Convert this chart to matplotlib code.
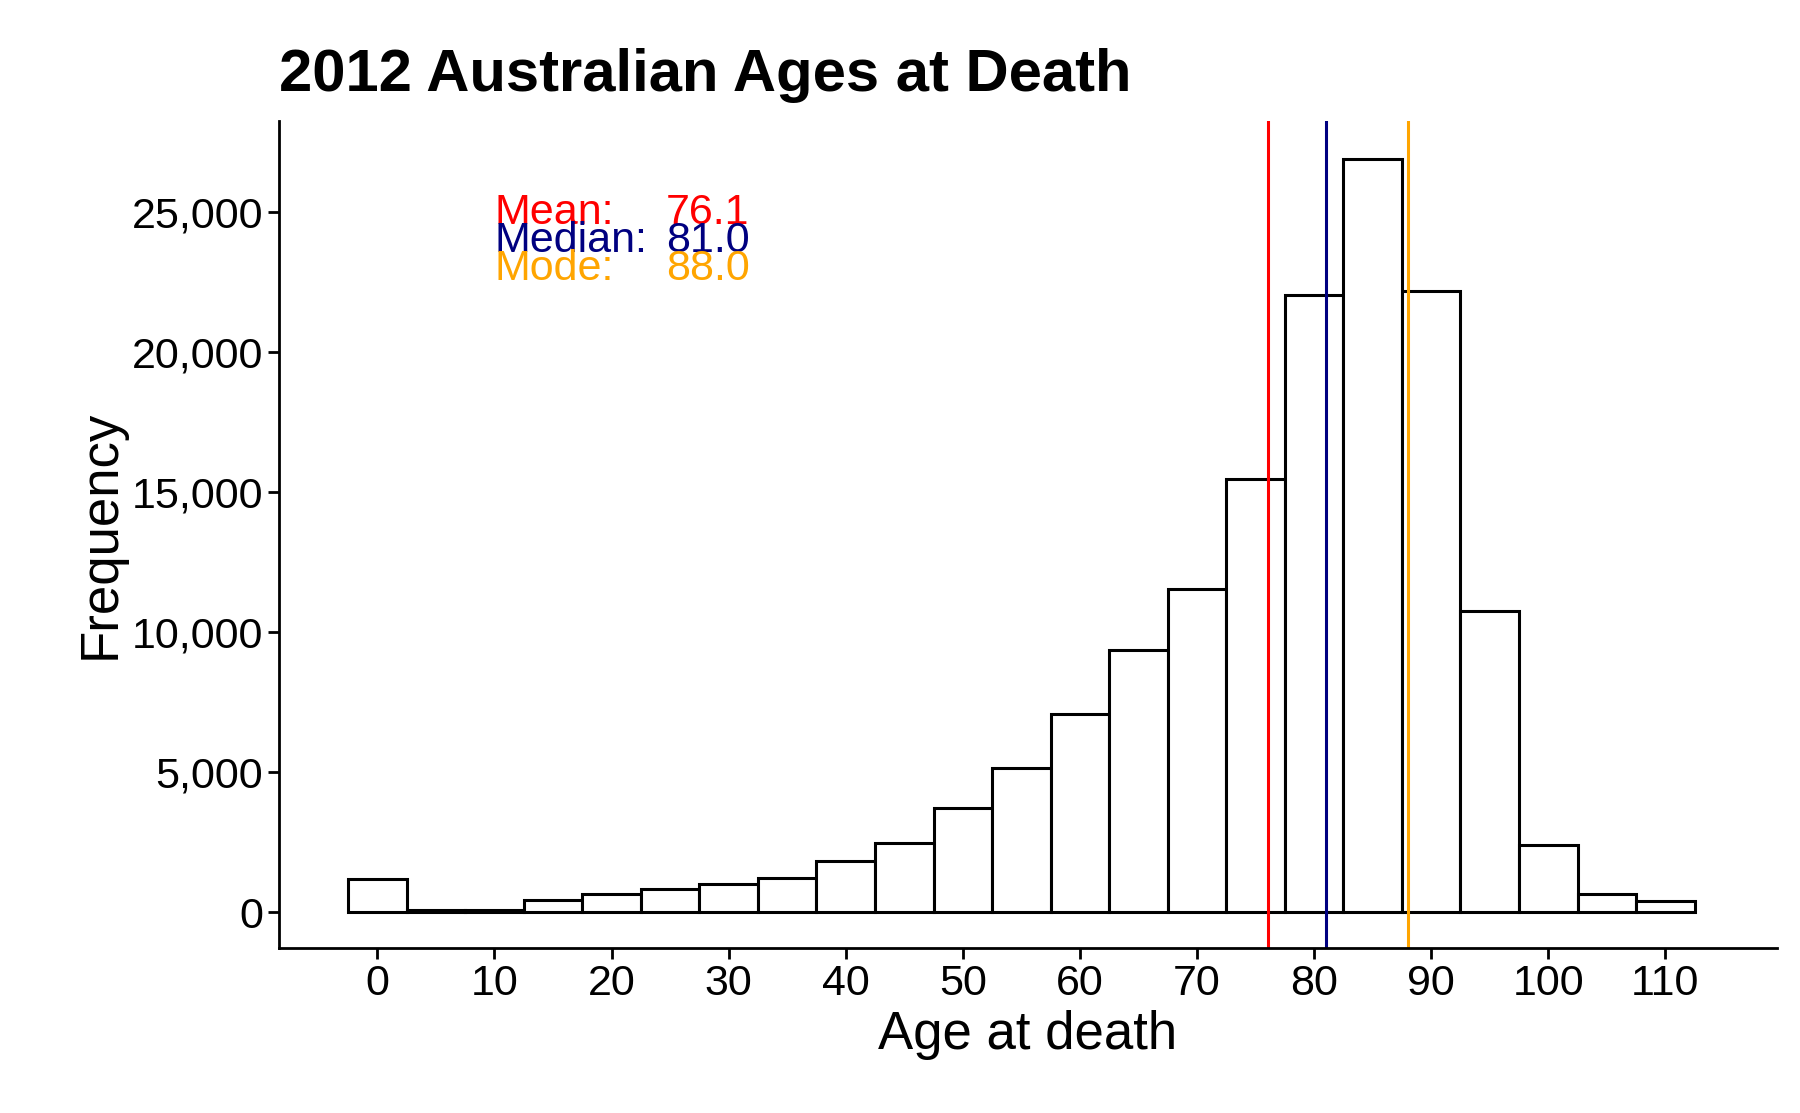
import numpy as np
import matplotlib.pyplot as plt

plt.rcParams['font.family'] = ['Liberation Sans', 'DejaVu Sans']

ages = [0, 5, 10, 15, 20, 25, 30, 35, 40, 45, 50, 55, 60, 65, 70, 75, 80, 85, 90, 95, 100, 105, 110]
counts = [1200, 100, 100, 450, 660, 830, 1000, 1240, 1820, 2480, 3720, 5170, 7080, 9350,
          11550, 15480, 22020, 26900, 22190, 10760, 2400, 660, 410]
stats = [("Mean:", "76.1", 76.1, "red"),
         ("Median:", "81.0", 81.0, "navy"),
         ("Mode:", "88.0", 88.0, "orange")]

fig = plt.figure(figsize=(18, 11.13), dpi=100)
ax = fig.add_axes([0.155, 0.148, 0.832, 0.743])

ax.bar(ages, counts, width=5, color="white", edgecolor="black", linewidth=2.2)
for i, (lab, val, x, col) in enumerate(stats):
    ax.axvline(x, color=col, linewidth=2.2)
    y = 24950 - i * 1000
    ax.text(10, y, lab, color=col, fontsize=31, va="center", ha="left")
    ax.text(28.2, y, val, color=col, fontsize=31, va="center", ha="center")

ax.set_xlim(-8.4, 119.5)
ax.set_ylim(-1280, 28230)
ax.set_xticks(range(0, 111, 10))
ax.set_yticks(range(0, 25001, 5000))
ax.yaxis.set_major_formatter(plt.FuncFormatter(lambda v, p: f"{int(v):,}"))
ax.tick_params(labelsize=31, width=2, length=8)
for s in ["top", "right"]:
    ax.spines[s].set_visible(False)
for s in ["left", "bottom"]:
    ax.spines[s].set_linewidth(2)
ax.set_xlabel("Age at death", fontsize=38)
ax.set_ylabel("Frequency", fontsize=38)
ax.set_title("2012 Australian Ages at Death", fontsize=43, fontweight="bold", loc="left", pad=22)

fig.savefig("out.png")
